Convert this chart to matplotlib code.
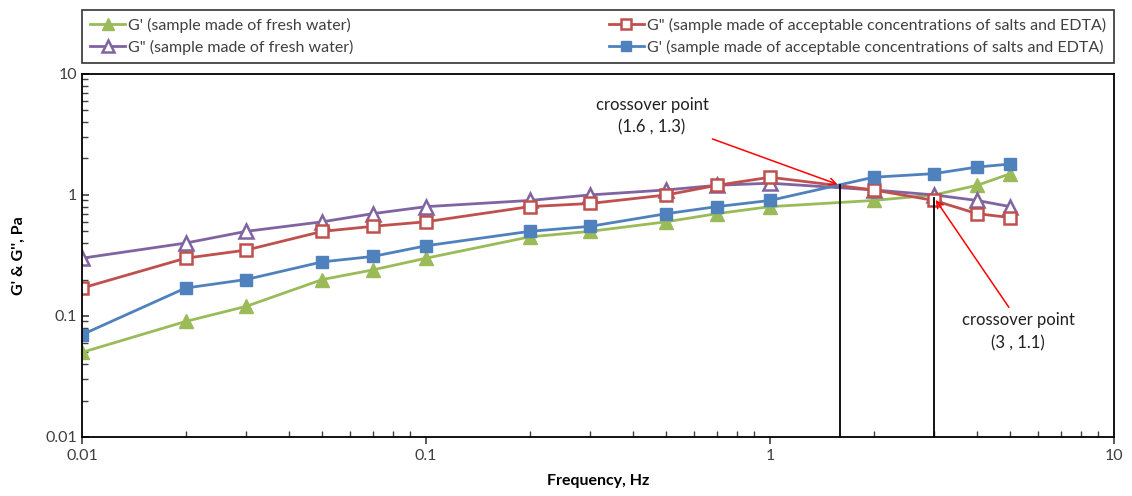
import numpy as np
import matplotlib
matplotlib.use("Agg")
from matplotlib import pyplot as plt
from matplotlib.ticker import LogLocator, FixedLocator, FixedFormatter, NullFormatter

plt.rcParams['font.family'] = ['Lato', 'DejaVu Sans']

# Data
freq = [0.01, 0.02, 0.03, 0.05, 0.07, 0.1, 0.2, 0.3, 0.5, 0.7, 1, 2, 3, 4, 5]
g1_fresh = [0.05, 0.09, 0.12, 0.2, 0.24, 0.3, 0.45, 0.5, 0.6, 0.7, 0.8, 0.9, 1.0, 1.2, 1.5]
g2_fresh = [0.3, 0.4, 0.5, 0.6, 0.7, 0.8, 0.9, 1.0, 1.1, 1.2, 1.25, 1.1, 1.0, 0.9, 0.8]
g2_salt = [0.17, 0.3, 0.35, 0.5, 0.55, 0.6, 0.8, 0.85, 1.0, 1.2, 1.4, 1.1, 0.9, 0.7, 0.65]
g1_salt = [0.07, 0.17, 0.2, 0.28, 0.31, 0.38, 0.5, 0.55, 0.7, 0.8, 0.9, 1.4, 1.5, 1.7, 1.8]

cross_x = [1.6, 3]
cross_y = [1.2, 0.95]
cross_text = ["crossover point\n(1.6 , 1.3)", "crossover point\n(3 , 1.1)"]

green = '#9BBB59'
purple = '#8064A2'
red = '#C0504D'
blue = '#4F81BD'

fig = plt.figure(figsize=(11.32, 4.96), dpi=100)
ax = fig.add_axes([0.0724, 0.119, 0.9117, 0.732])

l1, = ax.plot(freq, g1_fresh, color=green, lw=2, marker='^', ms=10,
              mfc=green, mec=green, label="G' (sample made of fresh water)")
l2, = ax.plot(freq, g2_fresh, color=purple, lw=2, marker='^', ms=10,
              mfc='white', mec=purple, mew=1.8, label='G" (sample made of fresh water)')
l3, = ax.plot(freq, g2_salt, color=red, lw=2, marker='s', ms=9,
              mfc='white', mec=red, mew=1.8,
              label='G" (sample made of acceptable concentrations of salts and EDTA)')
l4, = ax.plot(freq, g1_salt, color=blue, lw=2, marker='s', ms=9,
              mfc=blue, mec=blue,
              label="G' (sample made of acceptable concentrations of salts and EDTA)")

ax.set_xscale('log')
ax.set_yscale('log')
ax.set_xlim(0.01, 10)
ax.set_ylim(0.01, 10)

# vertical lines down from crossover points
for cx, cy in zip(cross_x, cross_y):
    ax.plot([cx, cx], [0.01, cy], color='black', lw=1.3, zorder=5)

ax.annotate(cross_text[0], xy=(cross_x[0], cross_y[0]), xytext=(0.454, 4.5),
            ha='center', va='center', fontsize=12, color='#202020', linespacing=1.5,
            arrowprops=dict(arrowstyle='->', color='red', lw=1.1,
                            relpos=(0.85, 0.1)))
ax.annotate(cross_text[1], xy=(cross_x[1], cross_y[1]), xytext=(5.26, 0.074),
            ha='center', va='center', fontsize=12, color='#202020', linespacing=1.5,
            arrowprops=dict(arrowstyle='->', color='red', lw=1.1,
                            relpos=(0.45, 1.0)))

ax.xaxis.set_major_locator(FixedLocator([0.01, 0.1, 1, 10]))
ax.xaxis.set_major_formatter(FixedFormatter(['0.01', '0.1', '1', '10']))
ax.yaxis.set_major_locator(FixedLocator([0.01, 0.1, 1, 10]))
ax.yaxis.set_major_formatter(FixedFormatter(['0.01', '0.1', '1', '10']))
ax.xaxis.set_minor_locator(LogLocator(base=10, subs=np.arange(2, 10)))
ax.yaxis.set_minor_locator(LogLocator(base=10, subs=np.arange(2, 10)))
ax.xaxis.set_minor_formatter(NullFormatter())
ax.yaxis.set_minor_formatter(NullFormatter())
ax.tick_params(which='major', direction='out', length=5, width=1.2, labelsize=11.5,
               colors='#404040', labelcolor='#404040')
ax.tick_params(which='minor', direction='in', length=4, width=1, colors='#404040')
ax.tick_params(axis='y', which='major', direction='in')
for sp in ax.spines.values():
    sp.set_linewidth(1.3)

ax.set_xlabel('Frequency, Hz', fontsize=11.5, fontweight='bold', labelpad=8)
ax.set_ylabel("G' & G'', Pa", fontsize=11.5, fontweight='bold', labelpad=14)

leg = ax.legend(handles=[l1, l2, l3, l4], ncol=2, loc='lower left',
                bbox_to_anchor=(0.0, 1.03, 1.0, 0.19), mode='expand',
                fontsize=11.5, frameon=True, fancybox=False, edgecolor='black',
                handlelength=2.2, handletextpad=0.2, borderaxespad=0.0,
                labelspacing=0.45, columnspacing=1.0, markerscale=0.8,
                borderpad=0.5)
leg.get_frame().set_linewidth(1.2)
for t in leg.get_texts():
    t.set_color('#404040')

fig.savefig('out.png', dpi=100)
